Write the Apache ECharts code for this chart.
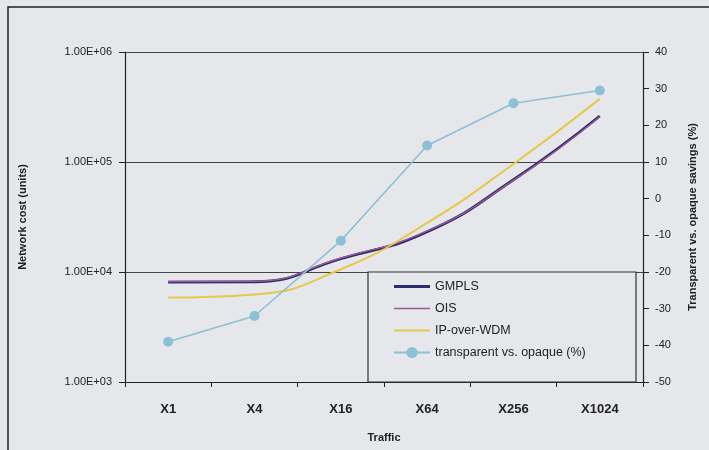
<!DOCTYPE html>
<html style="height: 100%">
<head>
    <meta charset="utf-8">
    <script type="text/javascript" src="https://cdn.jsdelivr.net/npm/echarts@6/dist/echarts.min.js"></script>
</head>
<body style="height: 100%; margin: 0; background: #e5e7eb">
<div id="container" style="height: 450px;width: 709px;position: absolute;top: 0;left: 0px;"></div>
<script type="text/javascript">
    // categories and values
    var traffic = ['X1', 'X4', 'X16', 'X64', 'X256', 'X1024'];
    var gmpls = [8100, 8150, 13200, 23200, 69000, 262000];
    var ois = [8200, 8250, 13400, 23600, 68000, 258000];
    var ipOverWdm = [5850, 6250, 10600, 28000, 96000, 375000];
    var savings = [-39, -32, -11.5, 14.5, 26, 29.5];

    var dom = document.getElementById("container");
    var myChart = echarts.init(dom);
    var fontFam = 'Liberation Sans, Arial, sans-serif';

    var option = {
        backgroundColor: '#e5e7eb',
        textStyle: {fontFamily: fontFam},
        animation: false,
        grid: {left: 125, right: 66, top: 52, bottom: 68},
        graphic: [
            {   // outer frame of the scanned chart
                type: 'rect', z: -1,
                shape: {x: 8, y: 7, width: 720, height: 460},
                style: {fill: 'none', stroke: '#222', lineWidth: 1.5}
            },
            {   // legend box
                type: 'rect', z: 3,
                shape: {x: 368, y: 272, width: 268, height: 110},
                style: {fill: '#e5e7eb', stroke: '#333', lineWidth: 1.2}
            }
        ],
        legend: {
            orient: 'vertical',
            left: 388,
            top: 275,
            itemWidth: 36,
            itemHeight: 14,
            itemGap: 9,
            textStyle: {fontSize: 12.5, color: '#222', fontFamily: fontFam},
            data: [
                {name: 'GMPLS', icon: 'path://M0,0 L36,0 L36,3 L0,3 Z'},
                {name: 'OIS', icon: 'path://M0,0 L36,0 L36,1.4 L0,1.4 Z'},
                {name: 'IP-over-WDM', icon: 'path://M0,0 L36,0 L36,2 L0,2 Z'},
                {name: 'transparent vs. opaque (%)'}
            ]
        },
        xAxis: {
            type: 'category',
            data: traffic,
            boundaryGap: true,
            name: 'Traffic',
            nameLocation: 'middle',
            nameGap: 50,
            nameTextStyle: {fontSize: 11, fontWeight: 'bold', color: '#222'},
            axisLine: {onZero: false, lineStyle: {color: '#222', width: 1.2}},
            axisTick: {show: true, length: 5, lineStyle: {color: '#222'}},
            axisLabel: {fontSize: 13, fontWeight: 'bold', color: '#222', margin: 21}
        },
        yAxis: [
            {
                type: 'log',
                logBase: 10,
                min: 1000,
                max: 1000000,
                name: 'Network cost (units)',
                nameLocation: 'middle',
                nameRotate: 90,
                nameGap: 97,
                nameTextStyle: {fontSize: 11, fontWeight: 'bold', color: '#222'},
                axisLine: {show: true, lineStyle: {color: '#222', width: 1.2}},
                axisTick: {show: true, length: 6, lineStyle: {color: '#222'}},
                axisLabel: {
                    fontSize: 11, color: '#222', margin: 13,
                    formatter: function (v) {
                        var e = Math.round(Math.log(v) / Math.LN10);
                        return '1.00E+' + (e < 10 ? '0' + e : e);
                    }
                },
                splitLine: {show: true, lineStyle: {color: '#444', width: 1}}
            },
            {
                type: 'value',
                position: 'right',
                min: -50,
                max: 40,
                interval: 10,
                name: 'Transparent vs. opaque savings (%)',
                nameLocation: 'middle',
                nameRotate: 90,
                nameGap: 44,
                nameTextStyle: {fontSize: 11, fontWeight: 'bold', color: '#222'},
                axisLine: {show: true, onZero: false, lineStyle: {color: '#222', width: 1.2}},
                axisTick: {show: true, length: 6, lineStyle: {color: '#222'}},
                axisLabel: {fontSize: 11, color: '#222', margin: 12},
                splitLine: {show: false}
            }
        ],
        series: [
            {
                name: 'GMPLS', type: 'line', smooth: true, symbol: 'none',
                data: gmpls,
                lineStyle: {color: '#2b2b6e', width: 2.8},
                itemStyle: {color: '#2b2b6e'}
            },
            {
                name: 'OIS', type: 'line', smooth: true, symbol: 'none',
                data: ois,
                lineStyle: {color: '#9a5a96', width: 1.4},
                itemStyle: {color: '#9a5a96'}
            },
            {
                name: 'IP-over-WDM', type: 'line', smooth: true, symbol: 'none',
                data: ipOverWdm,
                lineStyle: {color: '#e6c84a', width: 2},
                itemStyle: {color: '#e6c84a'}
            },
            {
                name: 'transparent vs. opaque (%)', type: 'line', yAxisIndex: 1,
                symbol: 'circle', symbolSize: 10,
                data: savings,
                lineStyle: {color: '#8dbfd6', width: 1.6},
                itemStyle: {color: '#8dbfd6'}
            }
        ]
    };
    myChart.setOption(option, true);
</script>
</body>
</html>
